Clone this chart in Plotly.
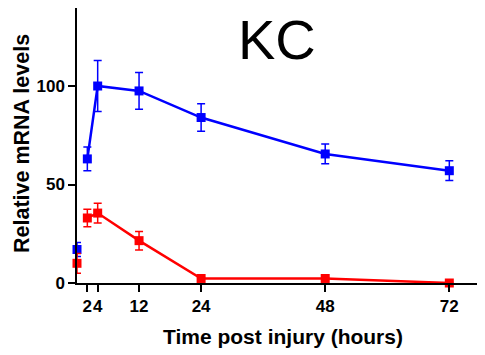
import plotly.graph_objects as go

# Data
x_base = [0]
x_time = [2, 4, 12, 24, 48, 72]

blue_base = [17]
blue_base_err = [3.5]
blue_vals = [63, 100, 97.5, 84, 65.5, 57]
blue_err = [6, 13, 9.3, 7, 5, 5]

red_base = [10]
red_base_err = [5]
red_vals = [33, 35.5, 21.5, 2.3, 2.3, 0]
red_err = [4.5, 5, 4.7, 0.5, 0.5, 0.3]

x_ticks = [2, 4, 12, 24, 48, 72]
x_ticktext = ["2", "4", "12", "24", "48", "72"]
y_ticks = [0, 50, 100]

BLUE = "#0000ff"
RED = "#ff0000"
FONT = "Liberation Sans, Arial, sans-serif"

fig = go.Figure()

def add_series(xs, ys, errs, color, mode):
    fig.add_trace(go.Scatter(
        x=xs, y=ys, mode=mode,
        line=dict(color=color, width=2.5),
        marker=dict(symbol="square", size=9, color=color),
        error_y=dict(type="data", array=errs, visible=True, color=color,
                     thickness=1.5, width=4),
        cliponaxis=False, showlegend=False))

add_series(x_time, blue_vals, blue_err, BLUE, "lines+markers")
add_series(x_base, blue_base, blue_base_err, BLUE, "markers")
add_series(x_time, red_vals, red_err, RED, "lines+markers")
add_series(x_base, red_base, red_base_err, RED, "markers")

# plot-area geometry (figure pixels)
pl, pr, pt, pb = 69, 477, 0, 275

fig.update_layout(
    width=485, height=355,
    margin=dict(l=pl, r=485 - pr, t=pt, b=355 - pb),
    paper_bgcolor="white", plot_bgcolor="white",
    font=dict(family=FONT, color="black"),
    annotations=[
        dict(text="KC", x=269, y=32, xref="paper", yref="paper",
             xanchor="center", yanchor="middle", showarrow=False,
             font=dict(family=FONT, size=56, color="black")),
        dict(text="<b>Time post injury (hours)</b>", x=275, y=328, xref="paper", yref="paper",
             showarrow=False, xanchor="center", yanchor="middle",
             font=dict(family=FONT, size=21, color="black")),
        dict(text="<b>Relative mRNA levels</b>", x=14, y=136, xref="paper", yref="paper",
             showarrow=False, xanchor="center", yanchor="middle", textangle=-90,
             font=dict(family=FONT, size=21.5, color="black")),
    ],
)

# convert pixel-based annotation positions to paper coords
for ann in fig.layout.annotations:
    ann.x = (ann.x - pl) / (pr - pl)
    ann.y = (pb - ann.y) / (pb - pt)

fig.update_xaxes(
    range=[0, 78.9], tickvals=x_ticks, ticktext=x_ticktext, tickangle=0,
    showgrid=False, zeroline=False, showline=True, linecolor="black", linewidth=1.5,
    ticks="outside", ticklen=7, tickwidth=1.5, tickcolor="black",
    tickfont=dict(family=FONT, size=17, color="black", weight="bold"),
    automargin=False,
)
fig.update_yaxes(
    range=[0, 139.6], tickvals=y_ticks,
    showgrid=False, zeroline=False, showline=True, linecolor="black", linewidth=1.5,
    ticks="outside", ticklen=7, tickwidth=1.5, tickcolor="black",
    tickfont=dict(family=FONT, size=17, color="black", weight="bold"),
    automargin=False,
)

fig.write_html("out.html")
